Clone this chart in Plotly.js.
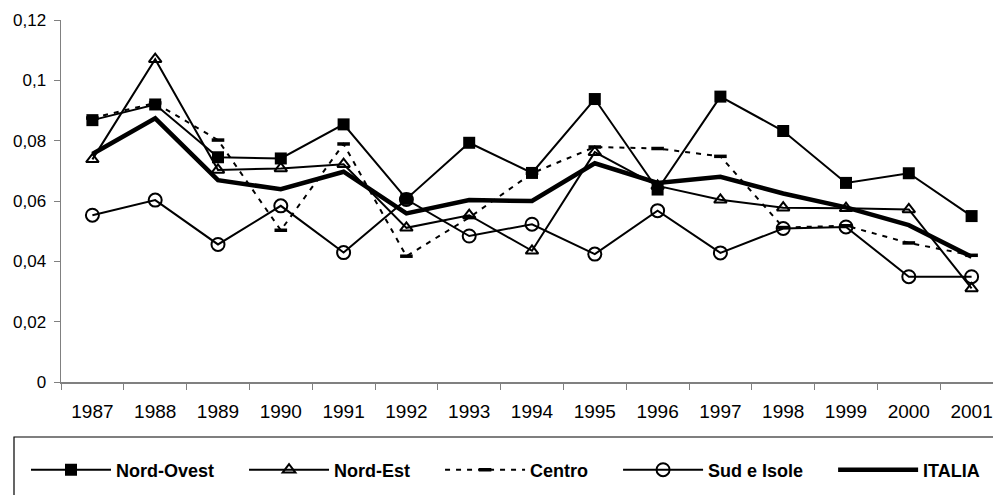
<!DOCTYPE html>
<html>
<head>
<meta charset="utf-8">
<script src="https://cdn.plot.ly/plotly-3.0.1.min.js"></script>
<style>
  html, body { margin: 0; padding: 0; background: #ffffff; }
  #chart { width: 993px; height: 495px; }
</style>
</head>
<body>
<div id="chart"></div>
<script>
const years = ['1987','1988','1989','1990','1991','1992','1993','1994','1995','1996','1997','1998','1999','2000','2001'];
const nordOvest = [0.0868, 0.0920, 0.0745, 0.0741, 0.0854, 0.0607, 0.0793, 0.0693, 0.0938, 0.0638, 0.0946, 0.0832, 0.0660, 0.0692, 0.0550];
const nordEst   = [0.0738, 0.1070, 0.0703, 0.0708, 0.0722, 0.0511, 0.0553, 0.0435, 0.0762, 0.0650, 0.0604, 0.0578, 0.0576, 0.0572, 0.0310];
const centro    = [0.0875, 0.0925, 0.0802, 0.0503, 0.0789, 0.0417, 0.0545, 0.0692, 0.0779, 0.0774, 0.0748, 0.0512, 0.0518, 0.0461, 0.0420];
const sudIsole  = [0.0553, 0.0603, 0.0456, 0.0584, 0.0429, 0.0605, 0.0484, 0.0523, 0.0424, 0.0568, 0.0428, 0.0509, 0.0514, 0.0349, 0.0349];
const italia    = [0.0756, 0.0874, 0.0669, 0.0639, 0.0697, 0.0559, 0.0603, 0.0600, 0.0725, 0.0660, 0.0680, 0.0625, 0.0579, 0.0520, 0.0415];
const seriesNames = ['Nord-Ovest', 'Nord-Est', 'Centro', 'Sud e Isole', 'ITALIA'];
const yTickValues = [0, 0.02, 0.04, 0.06, 0.08, 0.1, 0.12];
const yTickLabels = ['0', '0,02', '0,04', '0,06', '0,08', '0,1', '0,12'];

const FONT = '"Liberation Sans", Arial, sans-serif';
// trailing no-break spaces widen the gap between legend entries (as in the original legend)
const PAD = '\u00a0\u00a0\u00a0\u00a0\u00a0';

const traces = [
  {
    x: years, y: nordOvest, name: seriesNames[0] + PAD, type: 'scatter', mode: 'lines+markers',
    line: { color: '#000', width: 2 },
    marker: { symbol: 'square', size: 12, color: '#000' }
  },
  {
    x: years, y: nordEst, name: seriesNames[1] + PAD, type: 'scatter', mode: 'lines+markers',
    line: { color: '#000', width: 2 },
    marker: { symbol: 'triangle-up-open', size: 11, color: '#000', line: { color: '#000', width: 2 } }
  },
  {
    x: years, y: centro, name: seriesNames[2] + PAD, type: 'scatter', mode: 'lines+markers',
    line: { color: '#000', width: 2, dash: '5px,6px' },
    marker: { symbol: 'line-ew', size: 9, color: '#000', line: { color: '#000', width: 3.5 } }
  },
  {
    x: years, y: sudIsole, name: seriesNames[3] + PAD, type: 'scatter', mode: 'lines+markers',
    line: { color: '#000', width: 2 },
    marker: { symbol: 'circle-open', size: 13, color: '#000', line: { color: '#000', width: 2 } }
  },
  {
    x: years, y: italia, name: seriesNames[4], type: 'scatter', mode: 'lines',
    line: { color: '#000', width: 4.5 }
  }
];

const plotLeft = 61, plotTop = 20, plotBottom = 382, W = 993, H = 495;
const plotW = W - plotLeft, plotH = plotBottom - plotTop;
const px2paperX = px => (px - plotLeft) / plotW;
const px2paperY = py => (plotBottom - py) / plotH;

const layout = {
  width: W, height: H,
  margin: { l: plotLeft, r: 0, t: plotTop, b: H - plotBottom, autoexpand: false },
  paper_bgcolor: '#fff', plot_bgcolor: '#fff',
  font: { family: FONT, size: 17, color: '#000' },
  showlegend: true,
  xaxis: {
    type: 'category',
    range: [-0.5, -0.5 + plotW / 62.8],
    tickson: 'boundaries',
    ticks: 'outside', ticklen: 6, tickwidth: 1, tickcolor: '#808080',
    showline: true, linecolor: '#808080', linewidth: 1.5,
    showgrid: false, zeroline: false,
    tickfont: { family: FONT, size: 19, color: '#000' },
    ticklabelstandoff: 12,
    automargin: false, fixedrange: true
  },
  yaxis: {
    range: [0, 0.12],
    tickvals: yTickValues, ticktext: yTickLabels,
    ticks: 'outside', ticklen: 6, tickwidth: 1, tickcolor: '#808080',
    showline: true, linecolor: '#808080', linewidth: 1.5,
    showgrid: false, zeroline: false,
    tickfont: { family: FONT, size: 17, color: '#000' },
    ticklabelstandoff: 4,
    automargin: false, fixedrange: true
  },
  legend: {
    orientation: 'h',
    x: px2paperX(26), xanchor: 'left',
    y: px2paperY(470), yanchor: 'middle',
    font: { family: FONT, size: 18, color: '#000', weight: 'bold' },
    itemwidth: 80,
    bgcolor: 'rgba(0,0,0,0)', borderwidth: 0,
    traceorder: 'normal'
  },
  shapes: [
    {
      type: 'rect', xref: 'paper', yref: 'paper',
      x0: px2paperX(14), x1: px2paperX(1005),
      y0: px2paperY(437), y1: px2paperY(510),
      line: { color: '#000', width: 1.2 }, fillcolor: 'rgba(0,0,0,0)', layer: 'below'
    }
  ]
};

Plotly.newPlot('chart', traces, layout, { displayModeBar: false, staticPlot: true });
</script>
</body>
</html>
